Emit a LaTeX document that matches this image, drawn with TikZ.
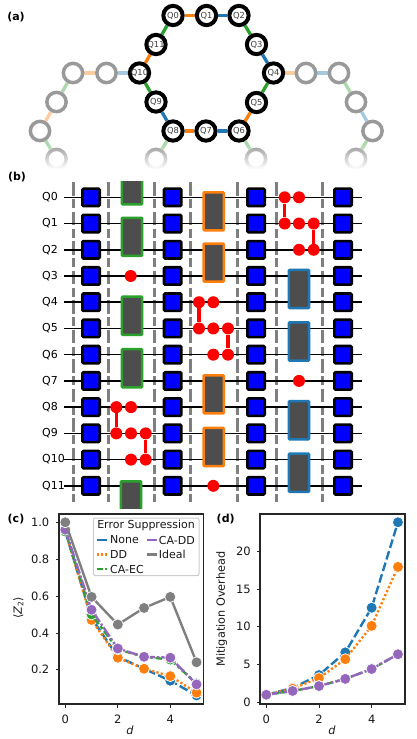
\documentclass[tikz,border=0pt]{standalone}
\usepackage{fontspec}
\setmainfont{DejaVu Sans}
\usetikzlibrary{backgrounds}
\definecolor{tb}{HTML}{1F77B4}
\definecolor{to}{HTML}{FF7F0E}
\definecolor{tg}{HTML}{2CA02C}
\definecolor{tp}{HTML}{9467BD}
\definecolor{ta}{HTML}{7F7F7F}
\definecolor{gatefill}{HTML}{4D4D4D}
\newcommand{\fsz}[1]{\fontsize{#1}{#1}\selectfont}
\tikzset{
  qubit/.style={circle,draw=black,fill=white,line width=4pt,minimum size=19.3pt,inner sep=0pt,text=black!75,font=\fsz{8.3}},
  ghost/.style={circle,draw=black!40,fill=white,line width=3.5pt,minimum size=19.3pt,inner sep=0pt},
  link/.style={line width=3.3pt},
  pale/.style={line width=3.3pt,opacity=.4},
  panel/.style={font=\bfseries\fsz{11}},
  rowlabel/.style={anchor=west,font=\fsz{11},inner sep=0pt},
  barrier/.style={draw=ta,line width=3pt,dash pattern=on 13.5pt off 3.5pt on 9pt off 3.5pt},
  wire/.style={draw=black,line width=1.5pt},
  sq/.style={draw=black,fill=blue,line width=2.6pt,rounded corners=1.2pt,minimum size=17.4pt,inner sep=0pt},
  gatebox/.style={fill=gatefill,line width=2.5pt,rounded corners=.8pt,minimum width=20.1pt,minimum height=38.1pt,inner sep=0pt},
  dot/.style={circle,fill=red,minimum size=12pt,inner sep=0pt},
  cz/.style={draw=red,line width=3.5pt},
  spine/.style={draw=black!85,line width=1.2pt},
  tick/.style={draw=black!85,line width=1pt},
  ticklab/.style={font=\fsz{11.5},inner sep=0pt,text=black!90},
  axlab/.style={font=\fsz{11.3},inner sep=0pt,text=black!90},
  ser/.style={line width=2.4pt,color=#1,mark=*,mark size=5.5pt,mark options={solid,fill=#1,draw=white,line width=.7pt}},
  sNone/.style={ser=tb,dash pattern=on 8.8pt off 3.3pt},
  sDD/.style={ser=to,dash pattern=on 2.2pt off 2.2pt},
  sEC/.style={ser=tg,dash pattern=on 6.6pt off 2.75pt on 3.3pt off 2.75pt},
  sCA/.style={ser=tp,dash pattern=on 11pt off 2.2pt on 2.2pt off 2.2pt},
  sId/.style={ser=ta},
  hNone/.style={line width=2.4pt,draw=tb},
  hDD/.style={line width=2.4pt,draw=to,dash pattern=on 2.2pt off 2.2pt},
  hEC/.style={line width=2.4pt,draw=tg,dash pattern=on 6.6pt off 2pt on 2pt off 2pt},
  hCA/.style={line width=2.4pt,draw=tp},
  hId/.style={line width=2.4pt,draw=ta},
  legtxt/.style={anchor=west,font=\fsz{11},inner sep=0pt,text=black!90},
}
\begin{document}
\begin{tikzpicture}[x=1pt,y=-1pt]
\useasboundingbox (0,0) rectangle (416,739);
%% (a)
\node[panel] (la) at (16,17) {(a)};
\foreach \n/\x/\y in {g1/106.5/73,g2/73/73,g3/56.5/102,g4/40/131,g5/56.5/159,g6/156/159,g7/256/159,r1/306/73,r2/339/73,r3/356/102,r4/372.5/131,r5/356/159}
  \node[ghost] (\n) at (\x,\y) {};
\foreach \n/\x/\y in {0/173/15.5,1/206.5/15.5,2/239/15.5,3/256.5/44.5,4/273.5/73,5/256.5/102.5,6/239/131,7/206/131,8/173/131,9/156/102,10/139.5/73,11/156/44.5}
  \node[qubit] (Q\n) at (\x,\y) {Q\n};
\begin{scope}[on background layer]
\draw[link,to] (Q0)--(Q1);
\draw[link,tb] (Q1)--(Q2);
\draw[link,tg] (Q2)--(Q3);
\draw[link,tb] (Q3)--(Q4);
\draw[link,tg] (Q4)--(Q5);
\draw[link,to] (Q5)--(Q6);
\draw[link,tb] (Q6)--(Q7);
\draw[link,to] (Q7)--(Q8);
\draw[link,tb] (Q8)--(Q9);
\draw[link,tg] (Q9)--(Q10);
\draw[link,to] (Q10)--(Q11);
\draw[link,tg] (Q11)--(Q0);
\draw[pale,tb] (Q10)--(g1);
\draw[pale,to] (g1)--(g2);
\draw[pale,tg] (g2)--(g3);
\draw[pale,to] (g3)--(g4);
\draw[pale,tg] (g4)--(g5);
\draw[pale,tg] (Q8)--(g6);
\draw[pale,tg] (Q6)--(g7);
\draw[pale,to] (Q4)--(r1);
\draw[pale,tb] (r1)--(r2);
\draw[pale,tg] (r2)--(r3);
\draw[pale,tb] (r3)--(r4);
\draw[pale,tg] (r4)--(r5);
\end{scope}
\foreach \i in {0,...,24}
  \fill[white,opacity=0.04+0.04*\i] (20,{145+\i}) rectangle (396,{146.2+\i});
\fill[white] (20,170) rectangle (396,172);
%% (b)
\node[panel] (lb) at (17,176.7) {(b)};
\foreach \x [count=\k] in {73.7,108,154.3,190,237.3,276,322} {
  \coordinate (bt\k) at (\x,182);
  \coordinate (bb\k) at (\x,502);
  \draw[barrier] (bt\k)--(bb\k);
}
\foreach \i in {0,...,11} {
  \pgfmathsetmacro{\ry}{197.3+26.23*\i}
  \node[rowlabel] (rl\i) at (42,\ry) {Q\i};
  \coordinate (wl\i) at (64,\ry);
  \coordinate (wr\i) at (362,\ry);
  \draw[wire] (wl\i)--(wr\i);
  \foreach \x [count=\k] in {91,172.7,256,343}
    \node[sq] (s\i-\k) at (\x,\ry) {};
}
\begin{scope}
\clip (100,181) rectangle (160,508);
\node[gatebox,draw=tg] (g00) at (132,185.4) {};
\node[gatebox,draw=tg] (g011) at (131,500.3) {};
\end{scope}
\foreach \n/\x/\y in {g12/132/236.8,g45/132/315.7,g67/132/368.2}
  \node[gatebox,draw=tg] (\n) at (\x,\y) {};
\foreach \n/\x/\y in {o01/213.7/211.3,o23/213.7/262.6,o78/213.7/394.3,o910/213.7/447}
  \node[gatebox,draw=to] (\n) at (\x,\y) {};
\foreach \n/\x/\y in {b34/299/289,b56/299/341.5,b89/299/420.2,b1011/299/472.7}
  \node[gatebox,draw=tb] (\n) at (\x,\y) {};
\foreach \n/\x/\r in {a3/130.7/3,a11/213.3/11,a7/299/7,
  c0/284.7/0,d0/299/0,c1/284.7/1,d1/299/1,e1/313.7/1,d2/299/2,e2/313.7/2,
  f4/199/4,h4/213.3/4,f5/199/5,h5/213.3/5,i5/228/5,h6/213.3/6,i6/228/6,
  j8/116.3/8,k8/131/8,j9/116.3/9,k9/131/9,l9/145.7/9,k10/131/10,l10/145.7/10}{
  \pgfmathsetmacro{\ry}{197.3+26.23*\r}
  \node[dot] (\n) at (\x,\ry) {};
}
\draw[cz] (c0)--(c1);
\draw[cz] (e1)--(e2);
\draw[cz] (f4)--(f5);
\draw[cz] (i5)--(i6);
\draw[cz] (j8)--(j9);
\draw[cz] (l9)--(l10);
%% (c)
\node[panel] (lc) at (16,519) {(c)};
\begin{scope}[shift={(65.3,706.5)},x=26.25pt,y=184.2pt]
\draw[sNone] plot coordinates {(0,.95)(1,.48)(2,.27)(3,.205)(4,.14)(5,.06)};
\draw[sDD] plot coordinates {(0,.955)(1,.47)(2,.265)(3,.205)(4,.165)(5,.075)};
\draw[sEC] plot coordinates {(0,.95)(1,.50)(2,.31)(3,.27)(4,.255)(5,.125)};
\draw[sCA] plot coordinates {(0,.96)(1,.525)(2,.315)(3,.27)(4,.265)(5,.12)};
\draw[sId] plot coordinates {(0,1)(1,.595)(2,.445)(3,.535)(4,.595)(5,.24)};
\end{scope}
\draw[spine] (59,514) rectangle (203.7,704);
\foreach \v/\y in {1.0/522.3,0.8/559.3,0.6/596,0.4/633,0.2/669.7}{
  \draw[tick] (59,\y)--(55.5,\y);
  \node[ticklab,anchor=east] at (49.5,\y) {\v};
}
\foreach \v/\x in {0/65.3,2/117.7,4/170.3}{
  \draw[tick] (\x,704)--(\x,707.5);
  \node[ticklab] at (\x,719.5) {\v};
}
\node[axlab] (xc) at (130,730) {\itshape d};
\node[axlab,rotate=90] (yc) at (18.3,608) {⟨\itshape Z\raisebox{-1.5pt}{\fsz{7.5}\upshape 2}\upshape ⟩};
\draw[draw=black!20,line width=1pt,fill=white,fill opacity=.8,rounded corners=2pt] (93.3,518) rectangle (199,575.7);
\node[legtxt,anchor=center] (lt) at (146,525.7) {Error Suppression};
\draw[hNone] (96.5,540)--(106.5,540); \node[legtxt] at (110,540) {None};
\draw[hDD] (96.5,554.5)--(106.5,554.5); \node[legtxt] at (110,554.5) {DD};
\draw[hEC] (96.5,569)--(106.5,569); \node[legtxt] at (110,569) {CA-EC};
\draw[hCA] (146.5,540)--(156.5,540); \node[legtxt] at (158.7,540) {CA-DD};
\draw[hId] (146.5,554.5)--(156.5,554.5); \node[legtxt] at (158.7,554.5) {Ideal};
%% (d)
\node[panel] (ld) at (225.7,519) {(d)};
\begin{scope}[shift={(266.3,702.3)},x=26.33pt,y=7.565pt]
\draw[sNone] plot coordinates {(0,1)(1,1.9)(2,3.6)(3,6.6)(4,12.5)(5,23.8)};
\draw[sDD] plot coordinates {(0,1)(1,1.8)(2,3.2)(3,5.7)(4,10.1)(5,17.9)};
\draw[sEC] plot coordinates {(0,1)(1,1.5)(2,2.15)(3,3.1)(4,4.4)(5,6.35)};
\draw[sCA] plot coordinates {(0,1)(1,1.5)(2,2.15)(3,3.1)(4,4.4)(5,6.35)};
\end{scope}
\draw[spine] (260,514) rectangle (405,704);
\foreach \v/\y in {0/702.3,5/664.3,10/626.7,15/589,20/551}{
  \draw[tick] (260,\y)--(256.5,\y);
  \node[ticklab,anchor=east] at (251,\y) {\v};
}
\foreach \v/\x in {0/266.3,2/319,4/371.7}{
  \draw[tick] (\x,704)--(\x,707.5);
  \node[ticklab] at (\x,719.5) {\v};
}
\node[axlab] (xd) at (332,730) {\itshape d};
\node[axlab,rotate=90] (yd) at (221.7,609) {Mitigation Overhead};
\end{tikzpicture}
\end{document}
